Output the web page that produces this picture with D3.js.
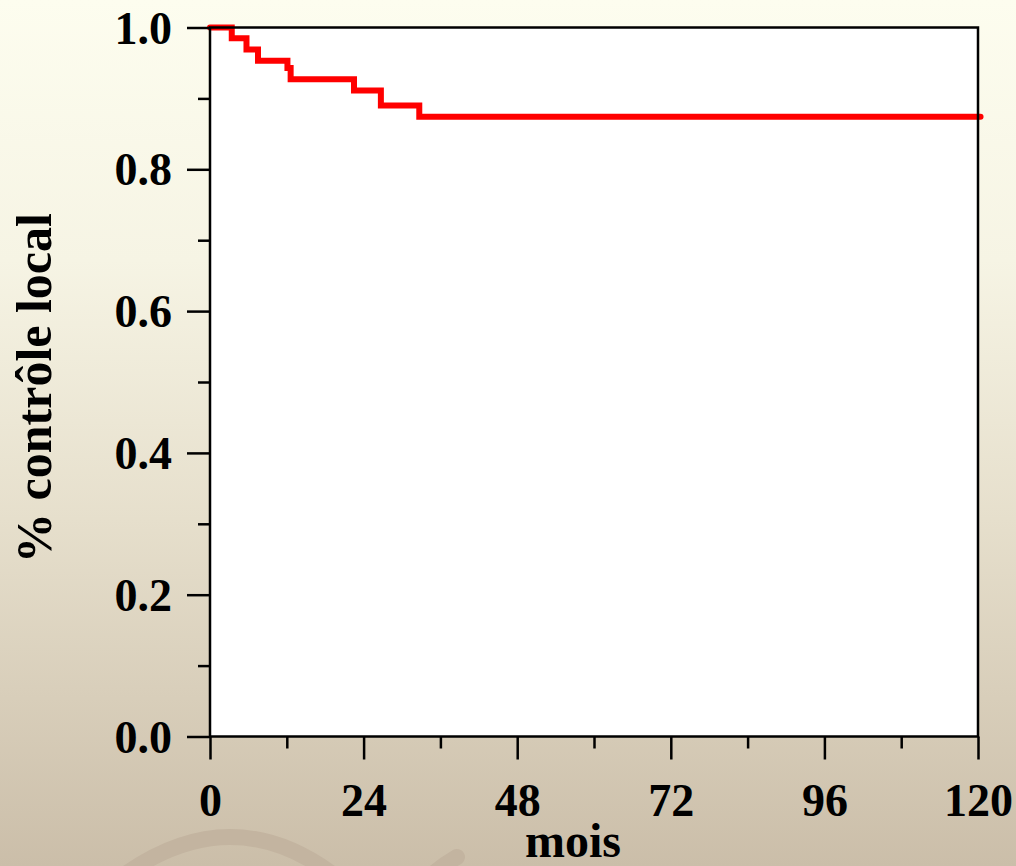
<!DOCTYPE html>
<html>
<head>
<meta charset="utf-8">
<style>
  html, body { margin: 0; padding: 0; }
  body { width: 1016px; height: 866px; overflow: hidden; }
  svg { display: block; }
  text { font-family: "Liberation Serif", "Times New Roman", serif; font-weight: bold; fill: #000; }
</style>
<script src="https://cdn.jsdelivr.net/npm/d3@7"></script>
</head>
<body>
<script>
// Kaplan-Meier: local control
const months = [0, 3.4, 5.7, 7.5, 12.1, 12.6, 22.5, 26.7, 32.7, 120.4]
const survival = [1.0, 0.985, 0.969, 0.953, 0.943, 0.927, 0.911, 0.890, 0.874, 0.874]
const xMajor = [0, 24, 48, 72, 96, 120]
const xMinor = [12, 36, 60, 84, 108]
const yMajor = [0, 0.2, 0.4, 0.6, 0.8, 1.0]
const yMinor = [0.1, 0.3, 0.5, 0.7, 0.9]

const W = 1016, H = 866
const plotLeft = 210, plotRight = 978, plotTop = 27.5, plotBottom = 736.5

const svg = d3.select('body').append('svg')
  .attr('width', W)
  .attr('height', H)

// background gradient
let grad = svg.append('defs').append('linearGradient')
  .attr('id', 'bg').attr('x1', 0).attr('y1', 0).attr('x2', 0).attr('y2', 1)
grad.append('stop').attr('offset', '0%').attr('stop-color', '#fdfdef')
grad.append('stop').attr('offset', '30%').attr('stop-color', '#f6f4e4')
grad.append('stop').attr('offset', '60%').attr('stop-color', '#e6dfcc')
grad.append('stop').attr('offset', '100%').attr('stop-color', '#cbbea9')
svg.append('rect').attr('width', W).attr('height', H).attr('fill', 'url(#bg)')

// faint swirl decoration at the bottom
svg.append('path')
  .attr('d', 'M112,884 Q232,790 345,884')
  .attr('fill', 'none').attr('stroke', '#c3b4a0').attr('stroke-width', 16).attr('stroke-linecap', 'round')
svg.append('path')
  .attr('d', 'M457,857 Q435,870 420,886')
  .attr('fill', 'none').attr('stroke', '#c3b4a0').attr('stroke-width', 16).attr('stroke-linecap', 'round')

const x = d3.scaleLinear().domain([0, 120]).range([plotLeft, plotRight])
const y = d3.scaleLinear().domain([0, 1]).range([plotBottom, plotTop])

svg.append('rect')
  .attr('x', plotLeft).attr('y', plotTop)
  .attr('width', plotRight - plotLeft).attr('height', plotBottom - plotTop)
  .attr('fill', '#fff')

// curve
let line = d3.line()
  .x((d, i) => x(months[i]))
  .y(d => y(d))
  .curve(d3.curveStepAfter)
svg.append('path')
  .attr('d', line(survival))
  .attr('fill', 'none')
  .attr('stroke', '#ff0000')
  .attr('stroke-width', 6)
  .attr('stroke-linejoin', 'miter')
  .attr('stroke-linecap', 'round')

// frame
svg.append('rect')
  .attr('x', plotLeft).attr('y', plotTop)
  .attr('width', plotRight - plotLeft).attr('height', plotBottom - plotTop)
  .attr('fill', 'none').attr('stroke', '#000').attr('stroke-width', 2.5)

// axes
let xAxis = svg.append('g').attr('transform', `translate(0,${plotBottom})`)
  .call(d3.axisBottom(x).tickValues(xMajor).tickSize(23).tickSizeOuter(0).tickPadding(24))
let xAxisMinor = svg.append('g').attr('transform', `translate(0,${plotBottom})`)
  .call(d3.axisBottom(x).tickValues(xMinor).tickSize(12).tickSizeOuter(0).tickFormat(''))
let yAxis = svg.append('g').attr('transform', `translate(${plotLeft},0)`)
  .call(d3.axisLeft(y).tickValues(yMajor).tickSize(23).tickSizeOuter(0).tickPadding(15).tickFormat(d3.format('.1f')))
let yAxisMinor = svg.append('g').attr('transform', `translate(${plotLeft},0)`)
  .call(d3.axisLeft(y).tickValues(yMinor).tickSize(12).tickSizeOuter(0).tickFormat(''))

for (let g of [xAxis, xAxisMinor, yAxis, yAxisMinor]) {
  g.select('.domain').remove()
  g.selectAll('line').attr('stroke', '#000').attr('stroke-width', 2.5)
  g.selectAll('text')
    .attr('font-family', '"Liberation Serif", "Times New Roman", serif')
    .attr('font-weight', 'bold')
    .attr('font-size', 46)
    .attr('fill', '#000')
}
yAxis.selectAll('text').attr('dy', '0.34em')

// titles
svg.append('text')
  .attr('x', 573)
  .attr('y', 857)
  .attr('text-anchor', 'middle')
  .attr('font-size', 48)
  .text('mois')

svg.append('text')
  .attr('transform', `translate(51,${388}) rotate(-90)`)
  .attr('text-anchor', 'middle')
  .attr('font-size', 50)
  .text('% contrôle local')
</script>
</body>
</html>
